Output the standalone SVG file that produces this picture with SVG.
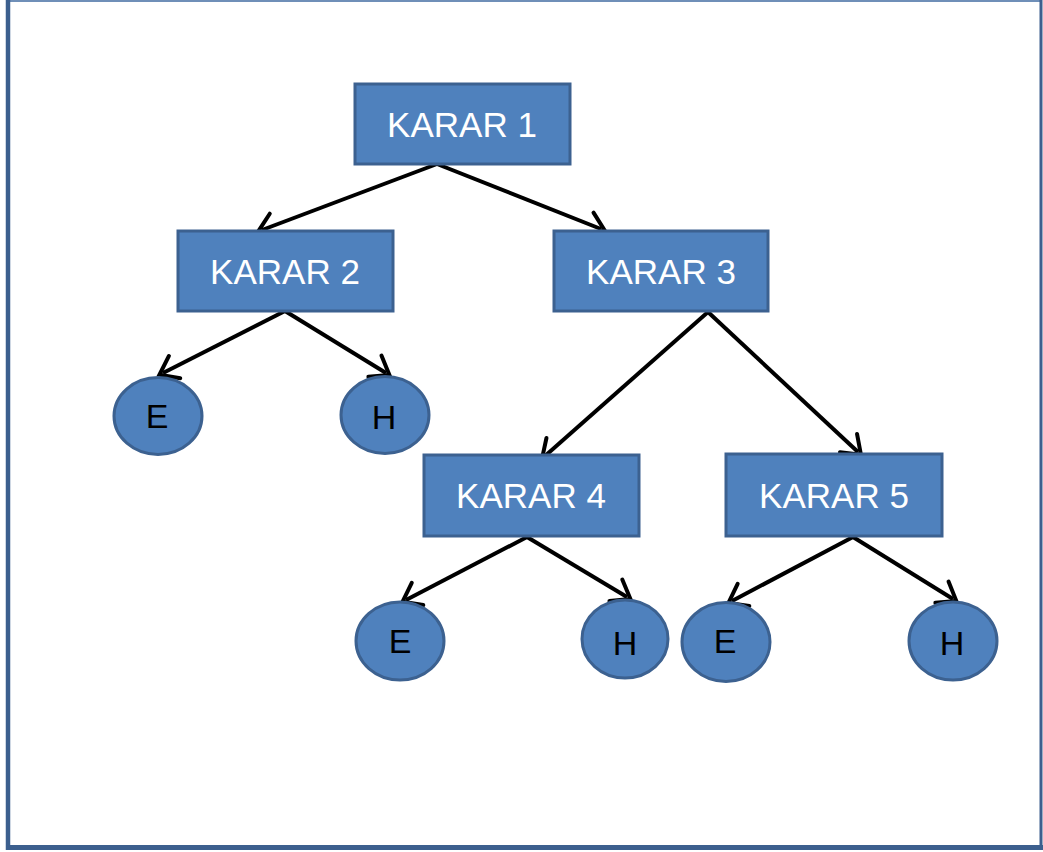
<svg xmlns="http://www.w3.org/2000/svg" width="1043" height="852" viewBox="0 0 1043 852">
  <style>
    .box { fill: #4f81bd; stroke: #3c6190; stroke-width: 3; }
    .leaf { fill: #4f81bd; stroke: #3c6190; stroke-width: 3; }
    .lbl { font-family: "Liberation Sans", Arial, sans-serif; font-size: 35px; fill: #ffffff; text-anchor: middle; }
    .ltr { font-family: "Liberation Sans", Arial, sans-serif; font-size: 34px; fill: #000000; text-anchor: middle; }
    .edge { stroke: #000000; stroke-width: 4; fill: none; marker-end: url(#arrow); }
    .frame { stroke: #3c5f8e; fill: none; }
  </style>
  <defs>
    <!-- open V arrowhead, drawn in user units so every connector gets the same size;
         the tip sits slightly beyond the line end so the shaft stays hidden inside it -->
    <marker id="arrow" markerUnits="userSpaceOnUse" markerWidth="32" markerHeight="32" refX="20" refY="16" orient="auto" viewBox="0 0 32 32">
      <path d="M7,3.5 L24,16 L7,28.5" fill="none" stroke="#000000" stroke-width="4" stroke-linecap="round" stroke-linejoin="miter"/>
    </marker>
  </defs>

  <rect width="1043" height="852" fill="#ffffff"/>

  <!-- outer frame -->
  <g id="frame">
    <line class="frame" x1="6" y1="1" x2="1042" y2="1" stroke-width="2" style="stroke:#6f8fb8"/>
    <line class="frame" x1="8" y1="0" x2="8" y2="850" stroke-width="4.5"/>
    <line class="frame" x1="1041" y1="0" x2="1041" y2="850" stroke-width="3"/>
    <line class="frame" x1="6" y1="847.5" x2="1043" y2="847.5" stroke-width="5"/>
  </g>

  <!-- connectors -->
  <g id="connectors">
    <line class="edge" x1="437" y1="164" x2="262" y2="230"/>
    <line class="edge" x1="437" y1="164" x2="601" y2="229"/>
    <line class="edge" x1="285" y1="311" x2="163" y2="373"/>
    <line class="edge" x1="285" y1="311" x2="386" y2="373"/>
    <line class="edge" x1="708" y1="312" x2="545" y2="456"/>
    <line class="edge" x1="708" y1="312" x2="858" y2="452"/>
    <line class="edge" x1="527" y1="537" x2="406" y2="600"/>
    <line class="edge" x1="527" y1="537" x2="627" y2="597"/>
    <line class="edge" x1="853" y1="537" x2="732" y2="601"/>
    <line class="edge" x1="853" y1="537" x2="953" y2="599"/>
  </g>

  <!-- decision nodes -->
  <g id="karar1">
    <rect class="box" x="355" y="84" width="215" height="80"/>
    <text class="lbl" x="462" y="137">KARAR 1</text>
  </g>
  <g id="karar2">
    <rect class="box" x="178" y="231" width="215" height="80"/>
    <text class="lbl" x="285" y="284">KARAR 2</text>
  </g>
  <g id="karar3">
    <rect class="box" x="554" y="231" width="214" height="80"/>
    <text class="lbl" x="661" y="284">KARAR 3</text>
  </g>
  <g id="karar4">
    <rect class="box" x="424" y="455" width="215" height="81"/>
    <text class="lbl" x="531" y="508">KARAR 4</text>
  </g>
  <g id="karar5">
    <rect class="box" x="726" y="454" width="216" height="82"/>
    <text class="lbl" x="834" y="508">KARAR 5</text>
  </g>

  <!-- outcome nodes -->
  <g id="e1">
    <ellipse class="leaf" cx="158" cy="416" rx="44" ry="38.5"/>
    <text class="ltr" x="157" y="428">E</text>
  </g>
  <g id="h1">
    <ellipse class="leaf" cx="385" cy="415" rx="44" ry="38.5"/>
    <text class="ltr" x="384" y="429">H</text>
  </g>
  <g id="e2">
    <ellipse class="leaf" cx="400" cy="641" rx="44" ry="39"/>
    <text class="ltr" x="400" y="653">E</text>
  </g>
  <g id="h2">
    <ellipse class="leaf" cx="625" cy="639" rx="43" ry="39"/>
    <text class="ltr" x="625" y="655">H</text>
  </g>
  <g id="e3">
    <ellipse class="leaf" cx="726" cy="642" rx="44" ry="39.5"/>
    <text class="ltr" x="725" y="653">E</text>
  </g>
  <g id="h3">
    <ellipse class="leaf" cx="953" cy="641" rx="44" ry="39"/>
    <text class="ltr" x="952" y="655">H</text>
  </g>
</svg>
